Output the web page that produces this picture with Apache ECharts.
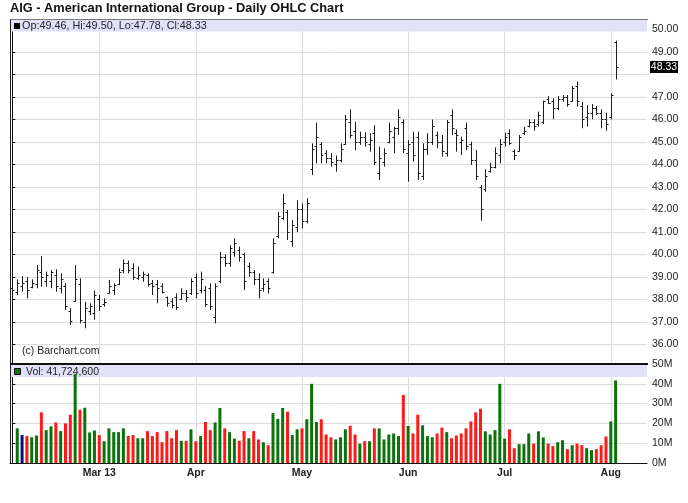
<!DOCTYPE html>
<html><head><meta charset="utf-8">
<script src="https://cdn.jsdelivr.net/npm/echarts@6/dist/echarts.min.js"></script>
<style>html,body{margin:0;padding:0;background:#fff}#c{width:688px;height:503px}</style>
</head><body><div id="c"></div>
<script>
// ---- data (AIG daily, 2013-02-04 .. 2013-08-02) ----
const opens = [38.50,38.35,38.60,38.80,38.55,38.70,39.20,38.80,38.80,39.10,
  38.50,38.60,37.50,37.95,38.70,37.00,37.50,37.40,38.00,37.80,
  38.30,38.40,38.70,39.30,39.60,39.40,38.95,39.00,39.10,38.75,
  38.70,38.60,38.10,37.95,38.10,38.00,38.30,38.30,39.00,38.40,
  38.40,38.50,37.20,38.80,39.90,39.60,40.10,40.20,40.00,39.50,
  39.20,38.90,38.50,38.80,39.20,40.80,41.60,41.90,40.60,41.20,
  42.00,41.50,43.80,44.80,44.90,44.50,44.30,44.00,44.20,44.90,
  45.90,45.50,45.00,45.20,44.90,45.40,43.60,44.10,45.00,45.20,
  45.60,45.90,44.50,45.00,45.20,43.50,44.70,45.00,45.30,45.00,
  44.50,46.20,45.40,45.00,45.60,44.90,44.20,43.00,42.90,43.70,
  43.90,44.40,45.00,45.40,44.60,44.60,45.40,45.70,45.90,45.80,
  45.90,46.90,46.80,46.50,46.90,47.00,46.80,47.50,46.60,46.10,
  46.30,46.50,46.30,46.00,46.10,49.46];
const highs = [38.64,38.90,39.04,39.00,38.90,39.53,39.93,39.24,39.31,39.34,
  39.16,38.72,37.61,39.53,38.94,37.90,37.83,38.40,38.20,38.05,
  38.87,38.72,39.38,39.78,39.73,39.61,39.46,39.24,39.16,38.87,
  38.87,38.72,38.13,38.05,38.27,38.50,38.42,38.94,39.16,39.24,
  38.60,38.72,38.72,40.12,40.00,40.42,40.72,40.35,40.08,39.64,
  39.31,39.16,38.94,38.94,40.72,41.90,42.69,41.98,41.53,42.42,
  42.27,42.50,44.94,45.86,45.00,44.64,44.50,44.40,44.94,46.20,
  46.45,45.90,45.46,45.43,45.39,45.75,44.79,44.72,45.86,45.68,
  46.45,46.00,45.09,45.46,45.46,44.94,45.39,46.00,45.46,45.31,
  45.98,46.45,45.56,45.24,45.86,45.01,44.64,43.09,43.79,44.08,
  44.76,45.12,45.41,45.56,44.67,45.31,45.68,46.01,46.01,46.35,
  46.84,47.04,46.94,47.04,47.09,47.09,47.49,47.68,46.79,46.64,
  46.69,46.60,46.45,46.30,47.16,49.50];
const lows = [38.13,38.20,38.35,38.05,38.50,38.50,38.57,38.57,38.50,38.35,
  38.27,37.53,36.87,37.90,36.94,36.72,37.31,37.10,37.50,37.68,
  38.27,38.20,38.64,39.16,39.16,38.87,38.87,38.79,38.57,38.20,
  37.83,38.27,37.68,37.61,37.53,37.98,37.90,38.20,38.05,38.27,
  37.68,37.53,36.94,38.72,39.46,39.46,39.90,39.68,38.42,39.00,
  38.64,38.05,38.35,38.27,39.16,40.72,41.53,40.64,40.35,41.00,
  41.16,41.38,43.53,44.05,44.05,44.05,43.90,43.68,44.10,44.87,
  45.16,44.64,44.87,44.80,44.57,43.98,43.31,43.90,44.94,44.50,
  45.31,44.50,43.24,44.13,43.31,43.31,44.42,44.87,44.72,44.35,
  44.35,45.31,44.57,44.42,44.64,43.98,43.31,41.50,42.79,43.64,
  43.83,44.05,44.80,44.87,44.20,44.57,45.31,45.65,45.50,45.68,
  45.80,46.69,46.01,46.42,46.79,46.57,46.79,46.57,45.61,45.68,
  46.01,46.20,45.61,45.50,46.01,47.78];
const closes = [38.40,38.75,38.75,38.40,38.75,39.30,39.00,39.10,39.20,38.60,
  38.90,37.70,37.05,38.90,37.10,37.60,37.70,38.20,37.70,37.90,
  38.60,38.65,39.20,39.60,39.30,39.00,39.10,39.15,38.70,38.60,
  38.50,38.35,37.85,37.75,37.65,38.30,38.10,38.80,38.30,38.90,
  37.80,37.70,38.60,39.90,39.60,40.30,40.50,39.90,38.80,39.20,
  38.90,38.40,38.70,38.50,40.50,41.70,42.30,41.00,41.30,42.00,
  41.50,42.30,44.70,45.20,44.40,44.30,44.10,44.20,44.70,46.00,
  45.30,45.00,45.20,45.00,45.10,44.10,44.30,44.50,45.50,45.60,
  46.10,44.70,44.90,44.40,43.60,44.70,45.00,45.70,45.00,44.60,
  45.90,45.60,45.30,45.10,44.80,44.20,43.50,42.00,43.50,43.90,
  44.50,44.90,45.20,44.95,44.40,45.20,45.50,45.90,45.70,46.20,
  46.80,46.75,46.50,46.90,47.00,46.70,47.40,46.80,46.00,46.30,
  46.50,46.30,46.00,45.80,47.10,48.33];
// volume in millions of shares
const volumesM = [null,17.5,14.1,13.6,13.0,13.9,25.6,16.6,18.5,20.5,
  16.1,20.0,24.4,45.0,26.9,27.9,15.4,16.4,14.1,11.0,
  17.5,15.6,15.6,17.5,13.7,14.1,12.5,12.5,16.1,13.6,
  15.6,10.5,16.1,12.5,16.6,11.2,11.2,17.0,11.0,13.6,
  20.7,16.6,20.5,27.8,17.5,15.6,12.3,11.2,16.1,12.5,
  16.1,11.9,10.5,9.0,25.2,22.3,27.8,25.9,14.1,17.0,
  17.5,22.1,40.0,20.7,22.1,14.4,13.0,11.9,13.0,17.0,
  18.8,14.4,9.8,11.0,11.0,17.5,17.5,11.9,14.4,14.9,
  13.6,34.4,18.7,14.9,24.4,19.0,13.6,13.0,14.9,17.9,
  15.6,12.5,13.9,14.9,17.5,21.0,25.6,27.4,16.0,14.4,
  16.6,40.0,12.3,17.0,7.5,9.5,9.5,14.9,9.8,16.0,
  12.9,9.8,8.5,10.5,11.5,7.0,9.0,9.8,9.0,7.5,
  6.5,7.0,9.0,13.4,21.0,41.7246];
const monthLabels = ['Mar 13','Apr','May','Jun','Jul','Aug'];
const priceTicks = [36,37,38,39,40,41,42,43,44,45,46,47,48,49,50];
const priceLabelTicks = [36,37,38,39,40,41,42,43,44,45,46,47,49,50];
const holidays = ['2013-02-18','2013-03-29','2013-05-27','2013-07-04'];
const firstDay = '2013-02-04';
const titleText = 'AIG - American International Group - Daily OHLC Chart';
const headerText = 'Op:49.46, Hi:49.50, Lo:47.78, Cl:48.33';
const volText = 'Vol: 41,724,600';
const creditText = '(c) Barchart.com';
const lastClose = 48.33;

// ---- trading calendar ----
function tradingDays(start, n) {
  const out = [];
  const d = new Date(start + 'T00:00:00Z');
  while (out.length < n) {
    const wd = d.getUTCDay();
    const s = d.toISOString().slice(0, 10);
    if (wd !== 0 && wd !== 6 && holidays.indexOf(s) < 0) out.push(s);
    d.setUTCDate(d.getUTCDate() + 1);
  }
  return out;
}
const dates = tradingDays(firstDay, closes.length);
const monthStarts = [];
for (let i = 1; i < dates.length; i++) {
  if (dates[i].slice(5, 7) !== dates[i - 1].slice(5, 7)) monthStarts.push(i);
}
const labelByIndex = {};
monthStarts.forEach((idx, k) => { labelByIndex[idx] = monthLabels[k]; });

const ohlc = closes.map((c, i) => [i, opens[i], highs[i], lows[i], c]);
const volData = volumesM.map((v, i) => {
  if (v == null) return null;
  const col = closes[i] > closes[i - 1] ? '#0a730a' : (closes[i] < closes[i - 1] ? '#ff1a1a' : '#0b0b80');
  return { value: [i, v], itemStyle: { color: col } };
}).filter(Boolean);

const FONT = '"Liberation Sans", Arial, sans-serif';
const GRID_COL = '#dcdcdc';
const chart = echarts.init(document.getElementById('c'), null, { renderer: 'canvas' });

chart.setOption({
  animation: false,
  backgroundColor: '#fff',
  textStyle: { fontFamily: FONT },
  grid: [
    { left: 10, right: 41, top: 20, bottom: 139 },
    { left: 10, right: 41, top: 364, bottom: 40 }
  ],
  xAxis: [
    { type: 'value', gridIndex: 0, min: -0.5, max: 131.5,
      axisLine: { show: false }, axisTick: { show: false, customValues: monthStarts },
      axisLabel: { show: false, customValues: monthStarts },
      splitLine: { show: true, lineStyle: { color: GRID_COL, width: 1 } } },
    { type: 'value', gridIndex: 1, min: -0.5, max: 131.5,
      axisLine: { show: true, onZero: false, lineStyle: { color: '#111', width: 1 } },
      axisTick: { show: false, customValues: monthStarts },
      axisLabel: { show: true, customValues: monthStarts, margin: 5,
        formatter: v => labelByIndex[Math.round(v)] || '',
        color: '#222', fontWeight: 'bold', fontSize: 10.5, fontFamily: FONT },
      splitLine: { show: true, lineStyle: { color: GRID_COL, width: 1 } } }
  ],
  yAxis: [
    { type: 'value', gridIndex: 0, position: 'right', min: 35.1333, max: 50.4222,
      axisLine: { show: true, lineStyle: { color: '#111', width: 1 } },
      axisTick: { show: true, inside: false, length: 3, customValues: priceTicks, lineStyle: { color: '#111' } },
      axisLabel: { show: true, customValues: priceLabelTicks, margin: 5,
        formatter: v => v.toFixed(2), color: '#222', fontSize: 10.5, fontFamily: FONT },
      splitLine: { show: true, lineStyle: { color: GRID_COL, width: 1 } } },
    { type: 'value', gridIndex: 1, position: 'right', min: 0, max: 50, interval: 10,
      axisLine: { show: true, lineStyle: { color: '#111', width: 1 } },
      axisTick: { show: true, inside: false, length: 3, lineStyle: { color: '#111' } },
      axisLabel: { show: true, margin: 5, formatter: v => v + 'M', color: '#222', fontSize: 10.5, fontFamily: FONT },
      splitLine: { show: true, lineStyle: { color: GRID_COL, width: 1 } } }
  ],
  series: [
    { type: 'custom', name: 'OHLC', xAxisIndex: 0, yAxisIndex: 0, z: 3,
      encode: { x: 0, y: [1, 2, 3, 4] },
      data: ohlc,
      renderItem: function (params, api) {
        const x = api.value(0);
        const pH = api.coord([x, api.value(2)]);
        const pL = api.coord([x, api.value(3)]);
        const pO = api.coord([x, api.value(1)]);
        const pC = api.coord([x, api.value(4)]);
        const cx = Math.round(pH[0]) + 0.5;
        const oy = Math.round(pO[1]) + 0.5, cy = Math.round(pC[1]) + 0.5;
        const st = { stroke: '#1c1c1c', lineWidth: 1 };
        return { type: 'group', children: [
          { type: 'line', shape: { x1: cx, y1: pH[1], x2: cx, y2: pL[1] }, style: st },
          { type: 'line', shape: { x1: cx - 2, y1: oy, x2: cx, y2: oy }, style: st },
          { type: 'line', shape: { x1: cx, y1: cy, x2: cx + 2, y2: cy }, style: st }
        ] };
      }
    },
    { type: 'bar', name: 'Volume', xAxisIndex: 1, yAxisIndex: 1, z: 2,
      barWidth: 3, data: volData }
  ]
});

// last-price tag positioned through the price axis scale
const tagY = chart.convertToPixel({ yAxisIndex: 0 }, lastClose);
const axisX = chart.convertToPixel({ xAxisIndex: 0 }, 131.5);

chart.setOption({
  graphic: [
    { type: 'rect', z: 1, shape: { x: 11, y: 20, width: 636, height: 11.5 }, style: { fill: '#e1e1fa' } },
    { type: 'rect', z: 1, shape: { x: 11, y: 365, width: 636, height: 12 }, style: { fill: '#e1e1fa' } },
    { type: 'line', z: 4, shape: { x1: 10, y1: 19.5, x2: 648, y2: 19.5 }, style: { stroke: '#777', lineWidth: 1 } },
    { type: 'line', z: 4, shape: { x1: 10.5, y1: 19.5, x2: 10.5, y2: 463 }, style: { stroke: '#222', lineWidth: 1 } },
    { type: 'line', z: 4, shape: { x1: 10, y1: 364, x2: 648, y2: 364 }, style: { stroke: '#111', lineWidth: 2 } },
    { type: 'text', z: 5, style: { x: 10, y: 8, text: titleText, font: 'bold 12.8px ' + FONT, fill: '#111', verticalAlign: 'middle' } },
    { type: 'rect', z: 5, shape: { x: 14, y: 23, width: 6, height: 6 }, style: { fill: '#000' } },
    { type: 'text', z: 5, style: { x: 22, y: 26.5, text: headerText, font: '10.8px ' + FONT, fill: '#222', verticalAlign: 'middle' } },
    { type: 'text', z: 5, style: { x: 22, y: 351, text: creditText, font: '10.5px ' + FONT, fill: '#222', verticalAlign: 'middle' } },
    { type: 'rect', z: 5, shape: { x: 14.5, y: 368.5, width: 6, height: 6 }, style: { fill: '#0a730a', stroke: '#111', lineWidth: 1 } },
    { type: 'text', z: 5, style: { x: 26, y: 372, text: volText, font: '10.5px ' + FONT, fill: '#222', verticalAlign: 'middle' } },
    { type: 'rect', z: 6, shape: { x: axisX + 3, y: Math.round(tagY) - 6, width: 28, height: 12 }, style: { fill: '#000' } },
    { type: 'text', z: 7, style: { x: axisX + 17, y: Math.round(tagY), text: lastClose.toFixed(2), font: '10.5px ' + FONT, fill: '#fff', align: 'center', verticalAlign: 'middle' } }
  ]
});
</script>
</body></html>
